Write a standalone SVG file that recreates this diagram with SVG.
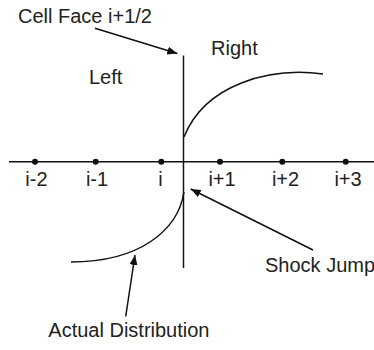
<svg xmlns="http://www.w3.org/2000/svg" width="374" height="350" viewBox="0 0 374 350">
<defs>
<style>
.ln{stroke:#111;stroke-width:1.5;fill:none}
.tx{font-family:"Liberation Sans",Arial,sans-serif;font-size:20px;fill:#222}
.dot{fill:#111}
</style>
<marker id="ah" markerUnits="userSpaceOnUse" markerWidth="12" markerHeight="10" refX="10" refY="4" orient="auto">
<path d="M0,0 L10,4 L0,8 Z" fill="#111"/>
</marker>
</defs>
<rect width="374" height="350" fill="#fff"/>
<g id="axis">
<line class="ln" x1="9" y1="161.7" x2="374" y2="161.7"/>
<circle class="dot" cx="35" cy="161.7" r="3"/>
<circle class="dot" cx="95.7" cy="161.7" r="3"/>
<circle class="dot" cx="161.3" cy="161.7" r="3"/>
<circle class="dot" cx="220" cy="161.7" r="3"/>
<circle class="dot" cx="282.3" cy="161.7" r="3"/>
<circle class="dot" cx="345.7" cy="161.7" r="3"/>
<text class="tx" x="36.4" y="185.7" text-anchor="middle">i-2</text>
<text class="tx" x="97" y="185.7" text-anchor="middle">i-1</text>
<text class="tx" x="160.5" y="185.7" text-anchor="middle">i</text>
<text class="tx" x="222" y="185.7" text-anchor="middle">i+1</text>
<text class="tx" x="285.5" y="185.7" text-anchor="middle">i+2</text>
<text class="tx" x="348" y="185.7" text-anchor="middle">i+3</text>
</g>
<g id="cell-face">
<line class="ln" x1="183.5" y1="55.5" x2="183.5" y2="268"/>
</g>
<g id="distribution">
<path class="ln" d="M184,137 C205,84 270,67 323,74"/>
<path class="ln" d="M184,192 C178,230 140,262 71,262"/>
</g>
<g id="labels">
<text class="tx" x="18" y="23">Cell Face i+1/2</text>
<text class="tx" x="211" y="55">Right</text>
<text class="tx" x="89" y="84">Left</text>
<text class="tx" x="265" y="271.7">Shock Jump</text>
<text class="tx" x="48.3" y="337">Actual Distribution</text>
</g>
<g id="connectors">
<line class="ln" x1="95" y1="28.3" x2="177.3" y2="53.5" marker-end="url(#ah)"/>
<line class="ln" x1="313" y1="250" x2="190.7" y2="189" marker-end="url(#ah)"/>
<line class="ln" x1="125.7" y1="316.5" x2="135" y2="255" marker-end="url(#ah)"/>
</g>
</svg>
